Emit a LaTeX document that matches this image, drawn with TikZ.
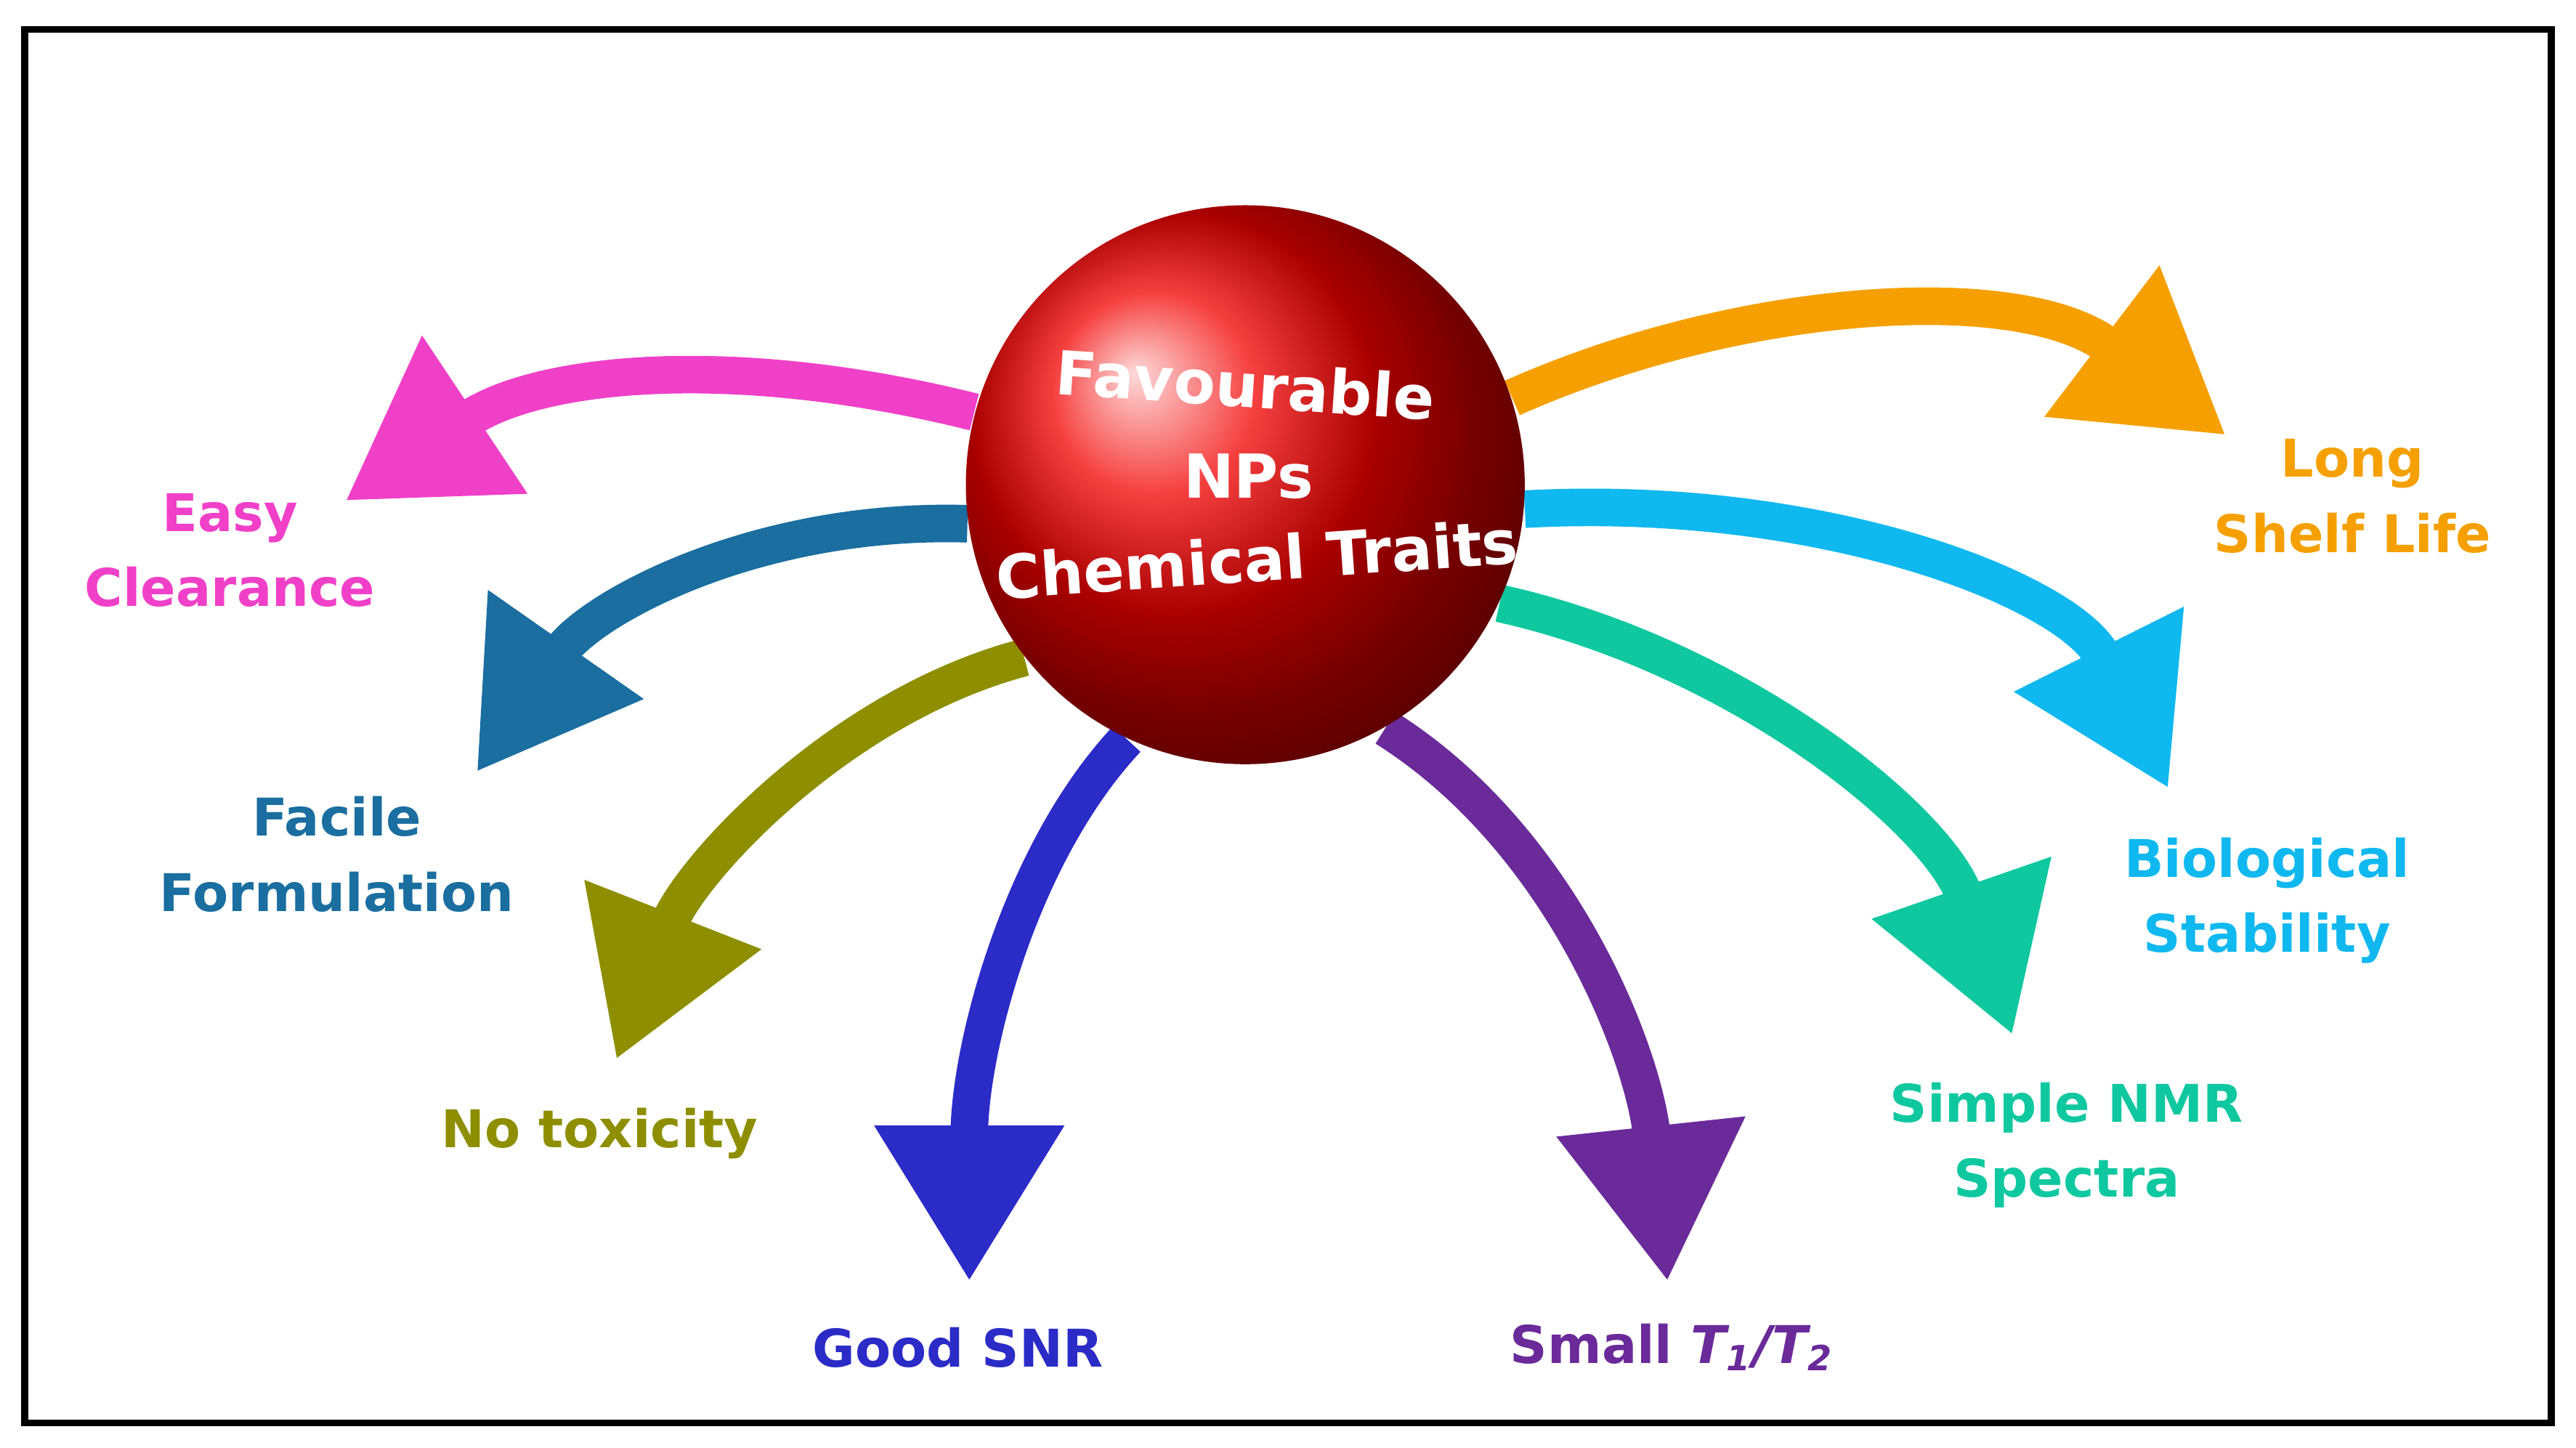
\documentclass[tikz,border=0pt]{standalone}
\usepackage{fontspec}
\setmainfont{DejaVu Sans}
\usetikzlibrary{arrows.meta,shadings}
\definecolor{cpink}{HTML}{F040C8}
\definecolor{cfac}{HTML}{1A6EA0}
\definecolor{colive}{HTML}{8E8E00}
\definecolor{cblue}{HTML}{2B2BC8}
\definecolor{cpurp}{HTML}{6A2A9A}
\definecolor{cteal}{HTML}{10C8A0}
\definecolor{ccyan}{HTML}{10B8F0}
\definecolor{corange}{HTML}{F5A000}
\tikzset{
 arr/.style={line width=6.5pt,-{Triangle[width=31pt,length=27pt]}},
 lab/.style={font=\bfseries\fontsize{9}{13}\selectfont,align=center},
 ctr/.style={font=\bfseries\fontsize{10.5}{13}\selectfont,text=white}
}
\begin{document}
\begin{tikzpicture}[x=0.01cm,y=-0.01cm]
\useasboundingbox (0,0) rectangle (1568,881);
\draw[line width=1.2pt] (15,18) rectangle (1553,866);
\node[circle,minimum size=3.4cm,inner sep=0] (s) at (758,295) {};
\coordinate (tpink) at (210,305);
\coordinate (tfac) at (290,470);
\coordinate (toli) at (375,645);
\coordinate (tblue) at (590,780);
\coordinate (tpurp) at (1015,780);
\coordinate (tteal) at (1225,630);
\coordinate (tcyan) at (1320,480);
\coordinate (tora) at (1355,265);
\draw[arr,cpink] (s.165) .. controls (450,215) and (330,225) .. (tpink);
\draw[arr,cfac] (s.188) .. controls (460,315) and (360,370) .. (tfac);
\draw[arr,colive] (s.218) .. controls (510,430) and (420,530) .. (toli);
\draw[arr,cblue] (s.245) .. controls (620,520) and (590,640) .. (tblue);
\draw[arr,cpurp] (s.300) .. controls (950,510) and (1000,640) .. (tpurp);
\draw[arr,cteal] (s.335) .. controls (1060,400) and (1180,500) .. (tteal);
\draw[arr,ccyan] (s.355) .. controls (1110,300) and (1260,360) .. (tcyan);
\draw[arr,corange] (s.18) .. controls (1060,180) and (1230,170) .. (tora);
\shade[ball color=red!95!black] (s.center) circle[radius=1.7cm];
\node[ctr,rotate=-4] (c1) at (758,234) {Favourable};
\node[ctr] (c2) at (760,290) {NPs};
\node[ctr,rotate=4] (c3) at (765,340) {Chemical Traits};
\node[lab,text=cpink] (l1) at (140,335) {Easy\\Clearance};
\node[lab,text=cfac] (l2) at (205,520) {Facile\\Formulation};
\node[lab,text=colive] (l3) at (365,690) {No toxicity};
\node[lab,text=cblue] (l4) at (583,820) {Good SNR};
\node[lab,text=cpurp] (l5) at (1018,820) {Small \textit{T\textsubscript{1}/T\textsubscript{2}}};
\node[lab,text=cteal] (l6) at (1258,697) {Simple NMR\\Spectra};
\node[lab,text=ccyan] (l7) at (1380,548) {Biological\\Stability};
\node[lab,text=corange] (l8) at (1432,302) {Long\\Shelf Life};
\end{tikzpicture}
\end{document}
